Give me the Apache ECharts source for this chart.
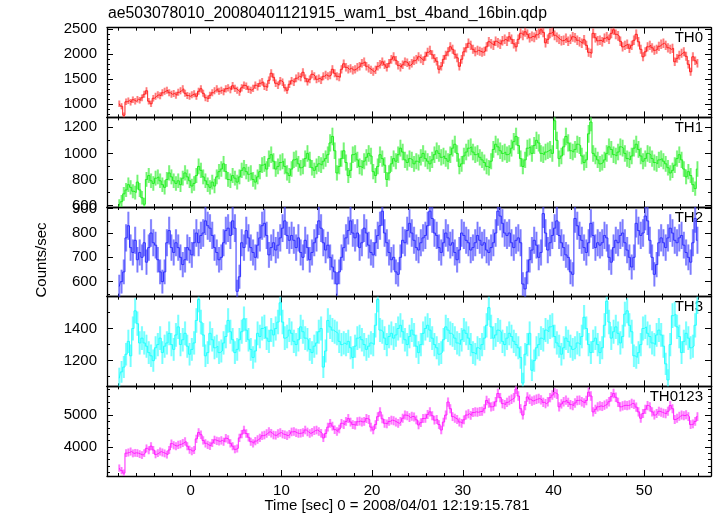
<!DOCTYPE html>
<html><head><meta charset="utf-8">
<script src="https://cdn.jsdelivr.net/npm/echarts@6/dist/echarts.min.js"></script>
<style>html,body{margin:0;padding:0;background:#fff}#c{width:717px;height:516px}</style>
</head><body><div id="c"></div>
<script>
// ---- data (0.25 s bins, counts/sec) ----
const binStart = -7.875, binWidth = 0.25;
const th0 = [
1010,960,780,1050,1070,1040,1090,1060,1100,1080,1130,1200,1270,1060,1010,1120,
1160,1190,1170,1230,1260,1280,1230,1200,1215,1180,1240,1270,1310,1220,1175,1160,
1190,1210,1160,1260,1310,1220,1130,1110,1180,1230,1270,1310,1260,1280,1250,1310,
1330,1290,1370,1320,1280,1240,1330,1380,1360,1300,1280,1320,1380,1350,1420,1450,
1360,1340,1480,1620,1540,1420,1380,1470,1440,1330,1280,1400,1470,1440,1520,1560,
1540,1640,1520,1450,1500,1600,1560,1500,1520,1480,1560,1590,1560,1580,1700,1620,
1560,1540,1700,1810,1740,1700,1720,1680,1700,1740,1760,1820,1850,1760,1720,1690,
1650,1690,1760,1800,1850,1790,1740,1820,1900,1950,1880,1780,1740,1790,1850,1830,
1780,1820,1870,1900,1950,1910,1870,1960,2040,2080,1990,1920,1860,1700,1760,1900,
1980,2050,2150,2100,2000,1930,1760,1900,2050,2130,2220,2180,2100,2050,2080,2060,
2040,2060,2150,2250,2210,2180,2260,2230,2200,2270,2300,2260,2350,2300,2210,2150,
2300,2420,2380,2450,2400,2330,2360,2340,2390,2420,2490,2440,2230,2300,2420,2450,
2380,2340,2300,2270,2280,2320,2260,2300,2350,2330,2280,2250,2220,2290,2180,2040,
2020,2420,2330,2270,2280,2250,2320,2350,2300,2420,2490,2400,2370,2260,2150,2180,
2200,2120,2180,2280,2400,2250,2100,1950,2050,2150,2180,2130,2080,2100,2160,2200,
2220,2180,2130,2100,2120,1850,1920,1980,2020,2050,1960,1800,1650,1950,1870,1820];
const th1 = [
600,630,690,720,760,740,710,700,780,720,660,610,800,830,790,770,
810,820,790,760,740,800,850,820,790,770,790,760,810,850,820,790,
750,770,830,900,870,820,790,760,740,780,750,820,860,880,920,860,
800,790,830,810,780,820,870,890,860,840,850,800,780,820,860,910,
920,880,960,990,940,880,900,930,940,900,850,830,880,950,960,920,
890,900,960,1000,950,890,870,900,920,910,940,960,990,1080,1130,1020,
850,900,960,1020,930,830,870,990,1000,950,900,890,940,970,1000,980,
860,830,900,990,960,910,800,850,920,960,940,990,1040,1010,950,930,
960,950,920,940,930,970,1000,960,940,920,950,990,1020,1000,970,980,
960,940,990,1040,1070,1000,900,920,980,1010,1040,1050,1010,990,1000,970,
950,930,900,890,940,1030,1070,1050,1020,1000,1010,990,1000,1040,1090,1130,
1060,960,900,950,1040,1050,1000,1060,1100,1080,1000,990,1010,1020,1030,1000,
1250,1100,960,980,1050,1130,1080,1020,1010,1030,1070,1060,980,930,950,1150,
1240,1000,980,950,920,930,950,1000,1050,1030,990,980,1010,1050,1040,1000,
960,950,980,1040,1070,1030,980,940,960,1000,990,960,930,920,950,960,
940,920,890,850,870,910,960,990,950,880,820,860,830,760,730,880];
const th2 = [
580,600,640,780,830,740,720,770,690,720,700,760,680,740,800,760,
750,690,640,600,640,760,810,740,720,760,740,700,670,690,740,730,
710,760,800,760,790,800,850,830,820,790,740,720,690,700,760,810,
820,790,850,820,560,620,760,740,810,780,740,720,700,750,780,830,
840,790,710,740,760,730,750,780,820,850,790,770,790,770,740,780,
720,700,770,740,690,720,760,780,850,820,760,730,750,700,660,640,
590,640,700,740,780,810,850,800,780,800,740,760,820,800,750,720,
710,760,790,830,890,800,760,720,690,700,640,630,700,770,760,810,
840,800,770,740,730,760,780,790,830,890,860,800,790,740,720,760,
800,780,750,760,720,690,730,800,790,770,760,730,740,760,790,770,
750,760,730,720,740,760,800,890,870,840,800,790,800,760,740,770,
780,760,590,570,640,690,730,770,750,700,720,880,800,730,760,790,
820,850,790,760,740,710,700,640,630,860,830,790,770,740,720,760,
840,790,740,760,750,760,790,780,700,680,740,770,760,790,800,760,
730,700,660,700,840,810,790,800,870,850,770,700,630,670,760,780,
760,740,780,820,800,770,760,780,790,750,720,700,680,760,860,770];
const th3 = [
1090,1130,1160,1240,1320,1230,1400,1510,1430,1310,1340,1310,1290,1250,1230,1200,
1280,1300,1340,1250,1290,1310,1370,1300,1270,1360,1410,1300,1330,1370,1290,1240,
1270,1310,1450,1580,1440,1360,1230,1250,1370,1330,1280,1290,1250,1260,1310,1350,
1450,1380,1330,1250,1270,1330,1380,1460,1390,1330,1270,1220,1260,1370,1350,1400,
1410,1340,1320,1390,1360,1400,1440,1560,1440,1340,1350,1390,1370,1320,1300,1330,
1410,1380,1340,1330,1270,1250,1290,1310,1380,1400,1160,1260,1450,1410,1390,1380,
1370,1320,1300,1310,1300,1320,1280,1220,1290,1340,1350,1330,1300,1270,1290,1310,
1300,1420,1580,1390,1380,1340,1300,1350,1370,1340,1360,1400,1420,1380,1330,1300,
1350,1390,1360,1290,1250,1300,1370,1400,1420,1390,1340,1300,1280,1240,1250,1330,
1410,1390,1370,1360,1340,1310,1300,1330,1390,1370,1340,1300,1250,1240,1280,1270,
1300,1340,1420,1530,1410,1340,1360,1390,1380,1320,1300,1340,1370,1350,1320,1300,
1280,1220,1060,1240,1300,1370,1140,1200,1280,1300,1340,1330,1390,1380,1410,1420,
1350,1310,1290,1240,1280,1340,1320,1290,1270,1280,1310,1300,1350,1470,1400,1300,
1250,1320,1340,1300,1250,1280,1420,1570,1440,1340,1380,1410,1370,1310,1350,1490,
1510,1420,1380,1230,1220,1250,1300,1400,1410,1370,1350,1310,1300,1360,1390,1360,
1290,1180,1080,1300,1480,1490,1410,1350,1250,1320,1370,1340,1280,1290,1420,1570];
const th0123 = [
3330,3250,3170,3800,3820,3850,3790,3810,3800,3770,3740,3800,3950,3890,4020,3900,
3760,3800,3850,3820,3790,3750,3900,4100,4050,4020,4060,4080,4120,4170,4020,3910,
3860,3900,4250,4450,4380,4200,4110,4060,4030,4120,4220,4190,4170,4200,4160,4270,
4230,4110,4020,3920,3950,4280,4400,4530,4420,4300,4160,4110,4180,4230,4280,4350,
4370,4420,4480,4430,4370,4360,4420,4450,4400,4380,4350,4400,4470,4480,4440,4420,
4430,4450,4530,4470,4420,4460,4510,4530,4480,4430,4280,4420,4620,4740,4650,4540,
4480,4560,4740,4700,4800,4890,4780,4700,4680,4790,4810,4780,4800,4890,4860,4620,
4530,4700,4950,5100,4880,4740,4720,4800,4840,4820,4780,4740,4800,4900,5000,4980,
4920,4960,4940,4850,4690,4760,4890,4900,5020,5100,4980,4840,4860,4700,4530,4780,
5000,5410,5200,4950,4900,4860,4780,4740,4850,5000,5040,4990,5080,5100,5090,5110,
5120,5200,5460,5380,5260,5280,5420,5680,5550,5360,5330,5400,5460,5500,5550,5820,
5600,5200,5000,5300,5570,5500,5440,5470,5500,5520,5480,5400,5360,5420,5550,5630,
5700,5660,5260,5350,5420,5470,5400,5330,5300,5380,5460,5470,5420,5380,5460,5720,
5600,5100,5180,5260,5290,5270,5310,5350,5420,5580,5680,5560,5400,5260,5290,5310,
5300,5320,5370,5340,5250,5100,4900,5050,5180,5300,5260,5100,5000,5050,5120,5090,
5060,5040,5120,5300,5200,4860,4900,4960,5000,4980,5010,4950,4700,4720,4800,4950];

const panelNames = ['TH0','TH1','TH2','TH3','TH0123'];
const xMajorTicks = [0,10,20,30,40,50];
const xMinorTicks = [-8,-6,-4,-2,2,4,6,8,12,14,16,18,22,24,26,28,32,34,36,38,42,44,46,48,52,54,56];
const yMajorTicks = [[1000,1500,2000,2500],[600,800,1000,1200],[600,700,800,900],[1200,1400],[4000,5000]];
const yMinorTicks = [
  [800,900,1100,1200,1300,1400,1600,1700,1800,1900,2100,2200,2300,2400],
  [700,900,1100],
  [550,650,750,850],
  [1100,1300,1500],
  [3200,3400,3600,3800,4200,4400,4600,4800,5200,5400,5600,5800]];
const titleText = 'ae503078010_20080401121915_wam1_bst_4band_16bin.qdp';
const xTitle = 'Time [sec] 0 = 2008/04/01 12:19:15.781';
const yTitle = 'Counts/sec';

// ---- layout / style ----
const seriesData = [th0, th1, th2, th3, th0123];
const yRanges = [[738,2532],[589,1276],[538,907],[1040,1598],[3080,5905]];
const colors = ['#ff2020','#22ee22','#3030ff','#22ffff','#ff22ff'];
const lights = ['rgba(255,80,80,0.55)','rgba(60,240,60,0.55)','rgba(70,70,255,0.55)','rgba(60,255,255,0.55)','rgba(255,70,255,0.55)'];
const XMIN = -9.23, XMAX = 57.37;
const LEFT = 107, WIDTH = 604, TOP = 27.7, PH = 89.66;
const FONT = '"Liberation Sans", Arial, Helvetica, sans-serif';

const chart = echarts.init(document.getElementById('c'), null, {renderer:'canvas'});
const grid = [], xAxis = [], yAxis = [], series = [], graphic = [];
const plain = v => String(v);

function tickAxis(base, vals, len, showLine) {
  return Object.assign({}, base, {
    axisLine:{show:showLine, onZero:false, lineStyle:{color:'#000', width:1.3}},
    axisTick:{show:true, inside:true, length:len, customValues:vals, lineStyle:{color:'#000', width:1}},
    axisLabel:{show:false},
    splitLine:{show:false}
  });
}

for (let p = 0; p < 5; p++) {
  const top = TOP + p*PH;
  grid.push({left:LEFT, width:WIDTH, top:top, height:PH, outerBoundsMode:'none', containLabel:false});
  const xb = {gridIndex:p, type:'value', min:XMIN, max:XMAX};
  const xm = tickAxis(Object.assign({position:'bottom'}, xb), xMajorTicks, 6, true);
  if (p === 4) xm.axisLabel = {show:true, customValues:xMajorTicks, formatter:plain, margin:7, color:'#000', fontSize:15, fontFamily:FONT};
  xAxis.push(xm);
  xAxis.push(tickAxis(Object.assign({position:'bottom'}, xb), xMinorTicks, 3, false));
  xAxis.push(tickAxis(Object.assign({position:'top'}, xb), xMajorTicks, 6, true));
  xAxis.push(tickAxis(Object.assign({position:'top'}, xb), xMinorTicks, 3, false));

  const yb = {gridIndex:p, type:'value', min:yRanges[p][0], max:yRanges[p][1]};
  const ym = tickAxis(Object.assign({position:'left'}, yb), yMajorTicks[p], 6, true);
  ym.axisLabel = {show:true, customValues:yMajorTicks[p], formatter:plain, margin:10, color:'#000', fontSize:15, fontFamily:FONT};
  yAxis.push(ym);
  yAxis.push(tickAxis(Object.assign({position:'left'}, yb), yMinorTicks[p], 3, false));
  yAxis.push(tickAxis(Object.assign({position:'right'}, yb), yMajorTicks[p], 6, true));
  yAxis.push(tickAxis(Object.assign({position:'right'}, yb), yMinorTicks[p], 3, false));

  const vals = seriesData[p];
  const pts = vals.map((v,i) => [binStart + i*binWidth, v, Math.sqrt(v*binWidth)/binWidth]);
  const light = lights[p], col = colors[p];
  series.push({
    type:'custom', xAxisIndex:4*p, yAxisIndex:4*p, clip:true, silent:true, z:2,
    data: pts, encode:{x:0, y:1},
    renderItem: function(params, api) {
      const x = api.value(0), v = api.value(1), e = api.value(2);
      const a = api.coord([x, v - e]), b = api.coord([x, v + e]);
      return {type:'group', children:[
        {type:'line', shape:{x1:a[0], y1:a[1], x2:b[0], y2:b[1]}, style:{stroke:light, lineWidth:2.2}},
        {type:'line', shape:{x1:a[0], y1:a[1], x2:b[0], y2:b[1]}, style:{stroke:col, lineWidth:0.6, opacity:0.55}}
      ]};
    }
  });
  series.push({
    type:'line', xAxisIndex:4*p, yAxisIndex:4*p, step:'middle', showSymbol:false, symbol:'none',
    data: pts.map(d => [d[0], d[1]]), clip:true, silent:true, z:3,
    lineStyle:{color:col, width:1}
  });
  graphic.push({type:'text', right:717-703, top: top + 3, style:{text:panelNames[p], fill:'#000', font:'15px ' + FONT}});
}

graphic.push({type:'text', left:108, top:6, style:{text:titleText, fill:'#000', font:'15.8px ' + FONT}});
graphic.push({type:'text', x:397, y:506, style:{text:xTitle, fill:'#000', font:'15px ' + FONT, textAlign:'center', textVerticalAlign:'middle'}});
graphic.push({type:'text', x:42, y:260, rotation:Math.PI/2, style:{text:yTitle, fill:'#000', font:'15px ' + FONT, textAlign:'center', textVerticalAlign:'middle'}});

chart.setOption({animation:false, backgroundColor:'#fff', grid, xAxis, yAxis, series, graphic});
</script></body></html>
